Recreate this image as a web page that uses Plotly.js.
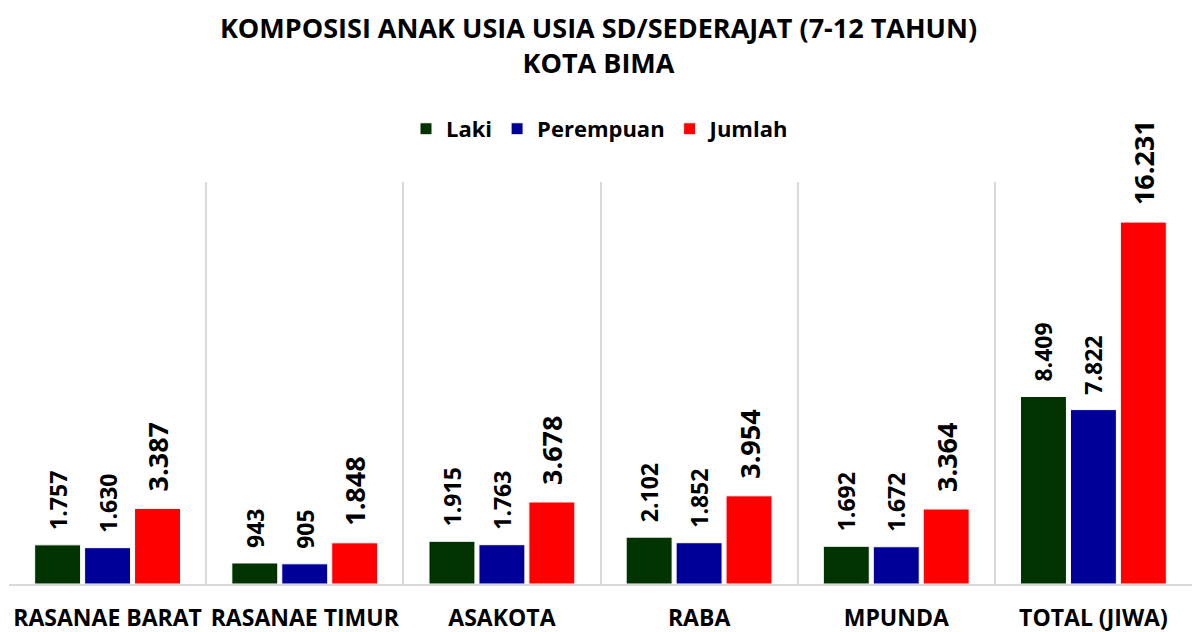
<!DOCTYPE html>
<html>
<head>
<meta charset="utf-8">
<script src="https://cdn.plot.ly/plotly-3.0.1.min.js"></script>
<style>html,body{margin:0;padding:0;background:#fff;}#chart{width:1197px;height:632px;}</style>
</head>
<body>
<div id="chart"></div>
<script>
var categories = ["RASANAE BARAT", "RASANAE TIMUR", "ASAKOTA", "RABA", "MPUNDA", "TOTAL (JIWA)"];
var laki = [1757, 943, 1915, 2102, 1692, 8409];
var perempuan = [1630, 905, 1763, 1852, 1672, 7822];
var jumlah = [3387, 1848, 3678, 3954, 3364, 16231];
var seriesNames = ["Laki", "Perempuan", "Jumlah"];
var titleText = "KOMPOSISI ANAK USIA USIA SD/SEDERAJAT (7-12 TAHUN)<br>KOTA BIMA";

var FONT = "Open Sans, Liberation Sans, sans-serif";
function mk(name, vals, color, size) {
  return {
    type: "bar", name: name, x: categories, y: vals,
    marker: {color: color, line: {color: "#ffffff", width: 1}},
    texttemplate: "\u00a0\u00a0%{y:,}", textposition: "outside", textangle: -90,
    constraintext: "none",
    textfont: {family: FONT, size: size, color: "#000000", weight: "bold"},
    cliponaxis: false, hoverinfo: "skip"
  };
}
var data = [
  mk(seriesNames[0], laki, "#003300", 23),
  mk(seriesNames[1], perempuan, "#000099", 23),
  mk(seriesNames[2], jumlah, "#ff0000", 27)
];
var layout = {
  width: 1197, height: 632,
  paper_bgcolor: "#ffffff", plot_bgcolor: "#ffffff",
  separators: ",.",
  margin: {l: 9, r: 5, t: 182, b: 48},
  title: {text: titleText, x: 0.5, xanchor: "center", y: 0.94, yanchor: "middle",
          font: {family: FONT, size: 27, color: "#000000", weight: "bold", lineposition: "none"}},
  showlegend: true,
  legend: {orientation: "h", x: 0.5, xanchor: "center", y: 1.132, yanchor: "middle",
           font: {family: FONT, size: 22, color: "#000000", weight: "bold"},
           itemwidth: 30, traceorder: "normal"},
  barmode: "group", bargap: 0.24, bargroupgap: 0.08,
  xaxis: {tickson: "boundaries", showgrid: true, gridcolor: "#d9d9d9", gridwidth: 2,
          showline: true, linecolor: "#d9d9d9", linewidth: 2, ticks: "", tickangle: 0,
          ticklabelstandoff: 12,
          tickfont: {family: FONT, size: 23, color: "#000000", weight: "bold"},
          fixedrange: true},
  yaxis: {range: [0, 18030], visible: false, showgrid: false, zeroline: false, fixedrange: true}
};
Plotly.newPlot("chart", data, layout, {displayModeBar: false, staticPlot: true});
</script>
</body>
</html>
